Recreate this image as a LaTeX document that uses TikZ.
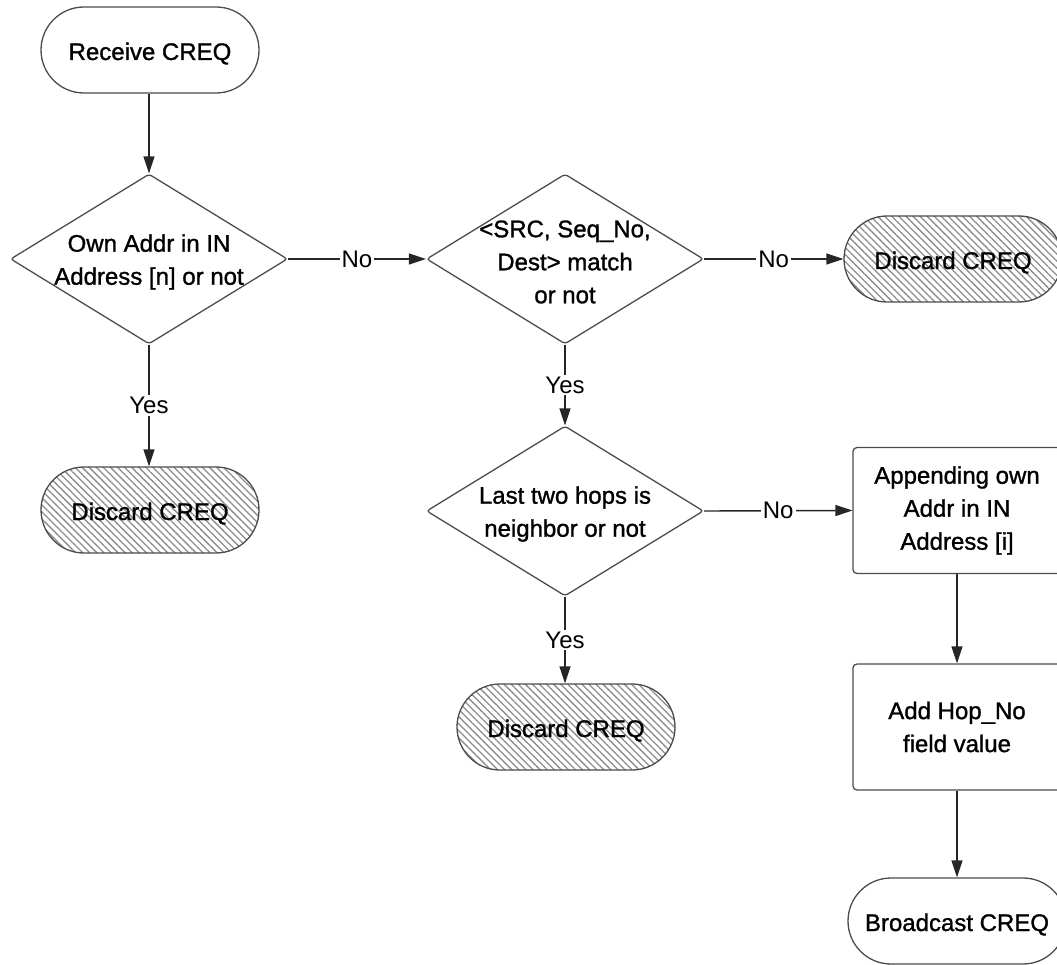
\documentclass[tikz,border=0pt]{standalone}
\usepackage{fontspec}
\setmainfont{Liberation Sans}
\newfontfamily\boxfont[FakeBold=1.2]{Liberation Sans}
\usetikzlibrary{shapes.geometric,arrows.meta,patterns.meta}
\begin{document}
\begin{tikzpicture}[x=1pt,y=-1pt,
  every node/.style={font=\fontsize{24}{33}\selectfont},
  shapetext/.style={font=\boxfont\fontsize{24}{33}\selectfont},
  term/.style={shapetext, draw=black!70, line width=1.3pt, rectangle, rounded corners=43pt,
    minimum width=218pt, minimum height=86pt, inner sep=0pt,
    text height=21pt, text depth=1pt},
  discard/.style={term, pattern={Lines[angle=-45,distance=5pt,line width=1.3pt]},
    pattern color=black!45},
  dec/.style={draw=black!70, line width=1.3pt, diamond, aspect=1.63,
    minimum width=277pt, minimum height=170pt, inner sep=0pt, rounded corners=3pt},
  proc/.style={shapetext, draw=black!70, line width=1.3pt, rectangle, rounded corners=4pt,
    minimum width=208pt, minimum height=126pt, inner sep=0pt, align=center},
  txt/.style={shapetext, align=center, inner sep=0pt, yshift=-3pt},
  flow/.style={draw=black!85, line width=1.4pt, -{Triangle[length=17pt,width=11pt]}},
  lbl/.style={fill=white, inner sep=2pt}
]
\useasboundingbox (0,0) rectangle (1057,965);

% terminals
\node[term] (rc) at (150,50) {Receive CREQ};
\node[discard] (dis1) at (150,510) {Discard CREQ};
\node[discard] (dis2) at (953,259) {Discard CREQ};
\node[discard] (dis3) at (566,727) {Discard CREQ};
\node[term] (bc) at (957,921) {Broadcast CREQ};

% decisions
\node[dec] (d1) at (149,259) {};
\node[txt] (d1t) at (d1.center) {Own Addr in IN\\Address [n] or not};
\node[dec] (d2) at (565,259) {};
\node[txt] (d2t) at (d2.center) {<SRC, Seq\_No,\\Dest> match\\or not};
\node[dec] (d3) at (565,511) {};
\node[txt] (d3t) at (d3.center) {Last two hops is\\neighbor or not};

% processes
\node[proc] (p1) at (957,510.5) {Appending own\\Addr in IN\\Address [i]};
\node[proc] (p2) at (957,727) {Add Hop\_No\\field value};

% connectors
\draw[flow] (rc.south -| d1.north) -- (d1.north);
\draw[flow] (d1.south) -- node[lbl] {Yes} (d1.south |- dis1.north);
\draw[flow] (d1.east) -- node[lbl] {No} (d2.west);
\draw[flow] (d2.east) -- node[lbl] {No} (dis2.west);
\draw[flow] (d2.south) -- node[lbl] {Yes} (d3.north);
\draw[flow] (d3.east) -- node[lbl] {No} (p1.west);
\draw[flow] (d3.south) -- node[lbl] {Yes} (d3.south |- dis3.north);
\draw[flow] (p1.south) -- (p2.north);
\draw[flow] (p2.south) -- (bc.north);
\end{tikzpicture}
\end{document}
